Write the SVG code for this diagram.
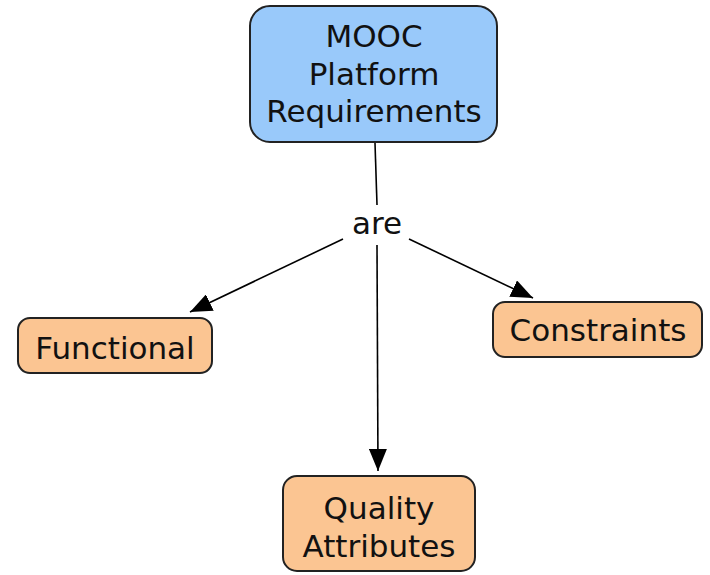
<svg xmlns="http://www.w3.org/2000/svg" width="710" height="575" viewBox="0 0 710 575">
<defs>
<marker id="arr" markerWidth="22" markerHeight="18" refX="22" refY="9" orient="auto" markerUnits="userSpaceOnUse">
<path d="M0,0 L22,9 L0,18 Z" fill="#000"/>
</marker>
<style>
.t{font-family:"DejaVu Sans","Liberation Sans",sans-serif;fill:#111;text-anchor:middle;font-size:31px}
.blue{fill:#99c9fa;stroke:#222;stroke-width:2}
.org{fill:#fbc592;stroke:#222;stroke-width:2}
.c{stroke:#000;stroke-width:1.6;fill:none}
</style>
</defs>
<rect width="710" height="575" fill="#fff"/>
<g id="connectors">
<line class="c" x1="375" y1="143" x2="377" y2="205"/>
<line class="c" x1="343" y1="239" x2="190" y2="312" marker-end="url(#arr)"/>
<line class="c" x1="409" y1="239" x2="533" y2="298" marker-end="url(#arr)"/>
<line class="c" x1="377" y1="245" x2="378" y2="471" marker-end="url(#arr)"/>
<text class="t" x="377" y="234">are</text>
</g>
<g id="mooc">
<rect class="blue" x="250" y="6" width="247" height="136" rx="20"/>
<text class="t" x="374" y="47">MOOC</text>
<text class="t" x="374" y="85">Platform</text>
<text class="t" x="374" y="122">Requirements</text>
</g>
<g id="functional">
<rect class="org" x="18" y="318" width="194" height="55" rx="12"/>
<text class="t" x="115" y="359">Functional</text>
</g>
<g id="constraints">
<rect class="org" x="493" y="302" width="209" height="55" rx="12"/>
<text class="t" x="598" y="341">Constraints</text>
</g>
<g id="quality">
<rect class="org" x="283" y="476" width="192" height="95" rx="14" stroke-width="4"/>
<text class="t" x="379" y="519">Quality</text>
<text class="t" x="379" y="557">Attributes</text>
</g>
</svg>
